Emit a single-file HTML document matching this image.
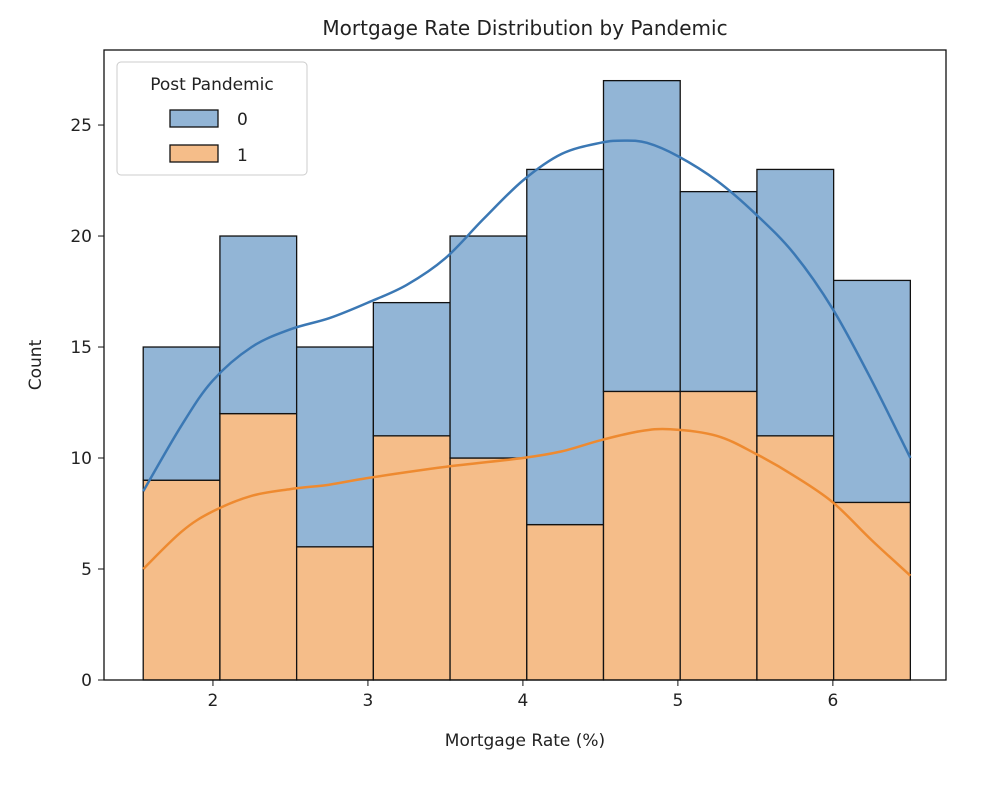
<!DOCTYPE html>
<html><head><meta charset="utf-8"><style>
body{margin:0;background:#fff;}
text{font-family:"DejaVu Sans","Liberation Sans",sans-serif;fill:#222;}
</style></head><body>
<svg id="chart" width="986" height="782" xmlns="http://www.w3.org/2000/svg">
<rect width="986" height="782" fill="#fff"/>
<g id="bars"></g><g id="lines"></g><g id="axes"></g>
<text x="525" y="35" text-anchor="middle" font-size="20">Mortgage Rate Distribution by Pandemic</text>
<text x="525" y="746" text-anchor="middle" font-size="17">Mortgage Rate (%)</text>
<text transform="translate(41,365) rotate(-90)" text-anchor="middle" font-size="17">Count</text>
<g>
<rect x="117" y="62" width="190" height="113" rx="4" fill="#fff" stroke="#ccc" fill-opacity="0.8"/>
<text x="212" y="90" text-anchor="middle" font-size="17">Post Pandemic</text>
<rect x="170" y="110" width="48" height="17" fill="#92b5d6" stroke="#111" stroke-width="1.3"/>
<text x="237" y="125" font-size="17">0</text>
<rect x="170" y="145" width="48" height="17" fill="#f5bd89" stroke="#111" stroke-width="1.3"/>
<text x="237" y="161" font-size="17">1</text>
</g>
</svg>
<script>
const binEdges=[1.55,2.045,2.54,3.035,3.53,4.025,4.52,5.015,5.51,6.005,6.5];
const countPost1=[9,12,6,11,10,7,13,13,11,8];
const countPost0=[6,8,9,6,10,16,14,9,12,10];
const xTicks=[2,3,4,5,6];
const yTicks=[0,5,10,15,20,25];
const kdeX0=[1.55,1.8,2.0,2.25,2.5,2.75,3.0,3.25,3.5,3.75,4.0,4.25,4.5,4.65,4.8,5.0,5.25,5.5,5.75,6.0,6.25,6.5];
const kdeY0=[8.5,11.5,13.5,15,15.8,16.3,17,17.8,19,20.8,22.5,23.7,24.2,24.3,24.2,23.6,22.5,21,19.2,16.7,13.5,10];
const kdeX1=[1.55,1.8,2.0,2.25,2.5,2.75,3.0,3.5,4.0,4.25,4.5,4.75,4.95,5.25,5.5,5.75,6.0,6.25,6.5];
const kdeY1=[5,6.7,7.6,8.3,8.6,8.8,9.1,9.6,10,10.3,10.8,11.2,11.3,11,10.2,9.2,8,6.3,4.7];
const X0=104,X1=946,Y0=680,Y1=50;
const xmin=1.297,xmax=6.73,ymax=28.38;
const sx=v=>X0+(v-xmin)/(xmax-xmin)*(X1-X0);
const sy=v=>Y0-v/ymax*(Y0-Y1);
const NS="http://www.w3.org/2000/svg";
function mk(t,a,p){const e=document.createElementNS(NS,t);for(const k in a)e.setAttribute(k,a[k]);p.appendChild(e);return e;}
const bars=document.getElementById('bars');
for(let i=0;i<countPost1.length;i++){
 const xa=sx(binEdges[i]),xb=sx(binEdges[i+1]);
 const r1=mk('rect',{x:xa,y:sy(countPost1[i]),width:xb-xa,height:sy(0)-sy(countPost1[i]),fill:'#f5bd89',stroke:'#111','stroke-width':1.3},bars);
 
 
 const top=countPost1[i]+countPost0[i];
 const r0=mk('rect',{x:xa,y:sy(top),width:xb-xa,height:sy(countPost1[i])-sy(top),fill:'#92b5d6',stroke:'#111','stroke-width':1.3},bars);
 
 
}
const lines=document.getElementById('lines');
function path(xs,ys){
 const P=xs.map((x,i)=>[sx(x),sy(ys[i])]);
 let d='M'+P[0][0].toFixed(1)+','+P[0][1].toFixed(1);
 for(let i=0;i<P.length-1;i++){
  const p0=P[Math.max(i-1,0)],p1=P[i],p2=P[i+1],p3=P[Math.min(i+2,P.length-1)];
  const c1=[p1[0]+(p2[0]-p0[0])/6,p1[1]+(p2[1]-p0[1])/6];
  const c2=[p2[0]-(p3[0]-p1[0])/6,p2[1]-(p3[1]-p1[1])/6];
  d+='C'+c1.map(v=>v.toFixed(1)).join(',')+' '+c2.map(v=>v.toFixed(1)).join(',')+' '+p2.map(v=>v.toFixed(1)).join(',');
 }
 return d;}
const l0=mk('path',{d:path(kdeX0,kdeY0),fill:'none',stroke:'#3b78b4','stroke-width':2.5,'stroke-linejoin':'round'},lines);


const l1=mk('path',{d:path(kdeX1,kdeY1),fill:'none',stroke:'#ee8a30','stroke-width':2.5,'stroke-linejoin':'round'},lines);


const ax=document.getElementById('axes');
const fr=mk('rect',{x:X0,y:Y1,width:X1-X0,height:Y0-Y1,fill:'none',stroke:'#111','stroke-width':1.3},ax);


xTicks.forEach(v=>{const x=sx(v);mk('line',{x1:x,x2:x,y1:Y0,y2:Y0+6,stroke:'#111'},ax);
 const t=mk('text',{x:x,y:Y0+26,'text-anchor':'middle','font-size':17},ax);t.textContent=v;
 
 });
yTicks.forEach(v=>{const y=sy(v);mk('line',{x1:X0-6,x2:X0,y1:y,y2:y,stroke:'#111'},ax);
 const t=mk('text',{x:X0-12,y:y+6,'text-anchor':'end','font-size':17},ax);t.textContent=v;
 
 });
</script>
</body></html>
